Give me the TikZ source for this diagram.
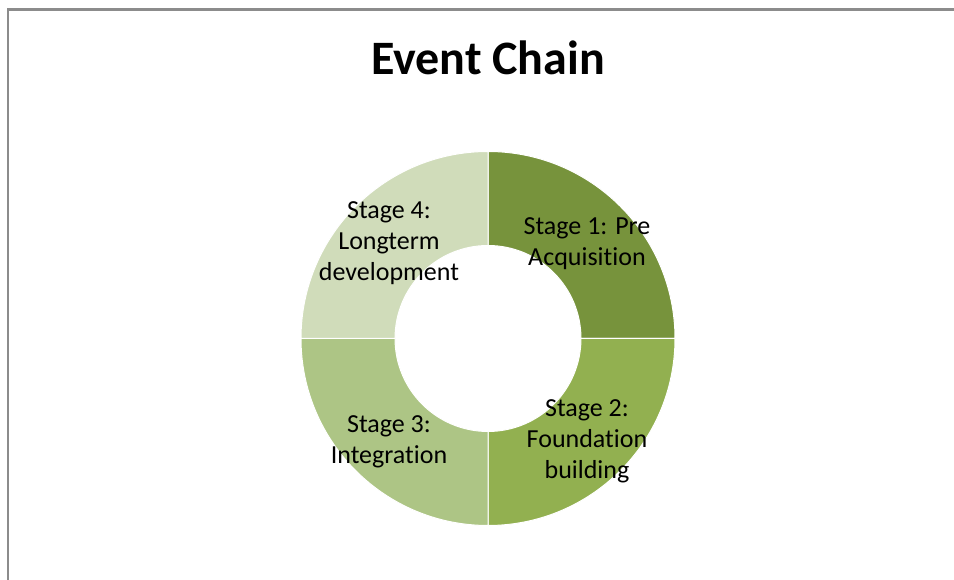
\documentclass[tikz,border=0pt]{standalone}
\usepackage{fontspec}
\setmainfont{Carlito}[Ligatures=NoCommon]
\usepackage{xcolor}
\definecolor{chainframe}{HTML}{8C8C8C}
\definecolor{stageone}{HTML}{77933C}
\definecolor{stagetwo}{HTML}{92B050}
\definecolor{stagethree}{HTML}{ADC585}
\definecolor{stagefour}{HTML}{D0DCBA}

\begin{document}
\begin{tikzpicture}[
    x=1pt, y=1pt,
    sector/.style={draw=white, line width=1pt},
    stagelbl/.style={font=\fontsize{26}{31}\selectfont, align=center, text=black, inner sep=0pt, yshift=-4pt},
    ttl/.style={font=\fontsize{48}{57}\selectfont\bfseries, inner sep=0pt},
  ]
  \useasboundingbox (0,0) rectangle (954,580);

  \def\rout{187}
  \def\rin{93}
  \def\rmid{140}

  % ---- chart frame, only the top and left edges are inside the page
  \draw[chainframe, line width=2.5pt] (8,0) -- (8,570.5) -- (954,570.5);

  \node[ttl, anchor=base] (title) at (488,505) {Event Chain};

  \coordinate (C) at (488,241.5);

  % ---- ring sectors, clockwise from twelve o'clock
  \foreach \i/\a/\col/\txt in {%
      1/90/stageone/{Stage 1: Pre\\Acquisition},
      2/0/stagetwo/{Stage 2:\\Foundation\\building},
      3/-90/stagethree/{Stage 3:\\Integration},
      4/180/stagefour/{Stage 4:\\Longterm\\development}} {
    \filldraw[sector, fill=\col]
      ([shift={(\a:\rout)}]C) arc[start angle=\a, end angle=\a-90, radius=\rout]
      -- ([shift={(\a-90:\rin)}]C) arc[start angle=\a-90, end angle=\a, radius=\rin]
      -- cycle;
    \node[stagelbl] (s\i) at ([shift={(\a-45:\rmid)}]C) {\txt};
  }

\end{tikzpicture}
\end{document}
